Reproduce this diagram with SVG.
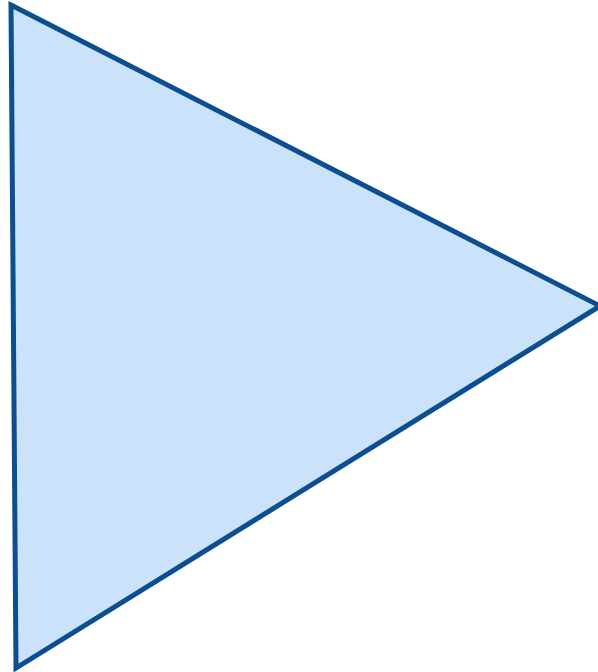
<svg xmlns="http://www.w3.org/2000/svg" width="598" height="672" viewBox="0 0 598 672">
<style>.tri{fill:#cae3fa;stroke:#0c4e8f;stroke-width:5;stroke-linejoin:miter}</style>
<g id="triangle"><polygon class="tri" points="11,5 600,306 16,668"/></g>
</svg>
